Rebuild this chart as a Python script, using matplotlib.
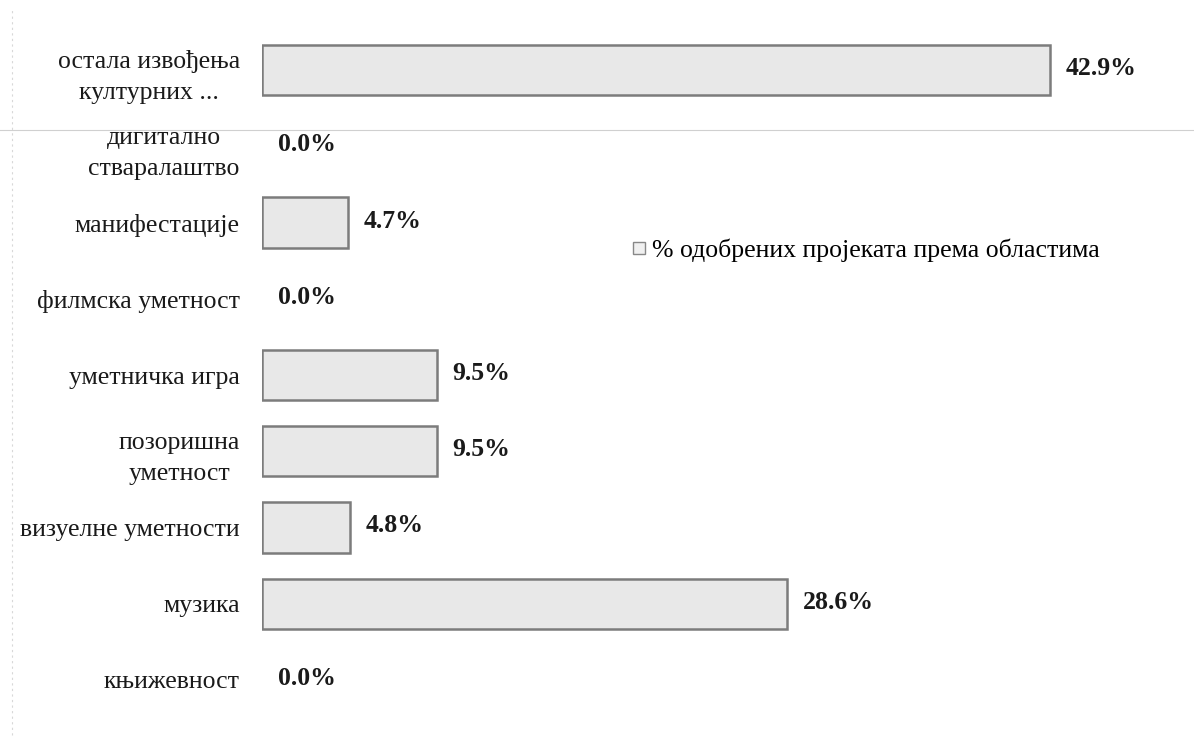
import matplotlib
matplotlib.use("Agg")
import matplotlib.pyplot as plt
from matplotlib.lines import Line2D

plt.rcParams['font.family'] = ['Liberation Serif', 'DejaVu Serif']

categories = ['књижевност', 'музика', 'визуелне уметности', 'позоришна\nуметност',
              'уметничка игра', 'филмска уметност', 'манифестације',
              'дигитално\nстваралаштво', 'остала извођења\nкултурних ...']
values = [0.0, 28.6, 4.8, 9.5, 9.5, 0.0, 4.7, 0.0, 42.9]
series_name = '% одобрених пројеката према областима'

fig = plt.figure(figsize=(11.94, 7.5), dpi=100)
ax = fig.add_axes([262 / 1194, 1 - 718 / 750, (1150 - 262) / 1194, 686 / 750])

pos = list(range(len(categories)))
bars = ax.barh(pos, values, height=0.66, color='#e8e8e8', edgecolor='#7c7c7c', linewidth=1.8)
for b, v in zip(bars, values):
    if v == 0:
        b.set_linewidth(0)

for p, v in zip(pos, values):
    ax.text(v + 0.85, p + 0.02, '{:.1f}%'.format(v), va='center', ha='left',
            fontsize=18.5, fontweight='bold', color='#1a1a1a')

ax.set_xlim(0, 48.34)
ax.set_ylim(-0.5, len(categories) - 0.5)
ax.set_yticks(pos)
ax.set_yticklabels(categories, fontsize=18.5, color='#1a1a1a',
                   multialignment='center', linespacing=1.55)
ax.tick_params(axis='y', length=0, pad=16)
ax.set_xticks([])
for s in ax.spines.values():
    s.set_visible(False)

handle = Line2D([], [], marker='s', linestyle='none', markersize=9,
                markerfacecolor='#f0f0f0', markeredgecolor='#888888')
ax.legend([handle], [series_name], loc='center left', frameon=False,
          bbox_to_anchor=((616 - 262) / (1150 - 262), 1 - (250 - 32) / 686),
          fontsize=18.5, handletextpad=0.1, handlelength=0.8, borderpad=0)

# faint scan artefacts
fig.add_artist(Line2D([0, 1], [1 - 130 / 750, 1 - 130 / 750], color='#d0d0d0', lw=0.8))
fig.add_artist(Line2D([12 / 1194, 12 / 1194], [0.02, 0.99], color='#d8d8d8', lw=0.8, ls=(0, (2, 3))))

fig.savefig('out.png', dpi=100, facecolor='white')
